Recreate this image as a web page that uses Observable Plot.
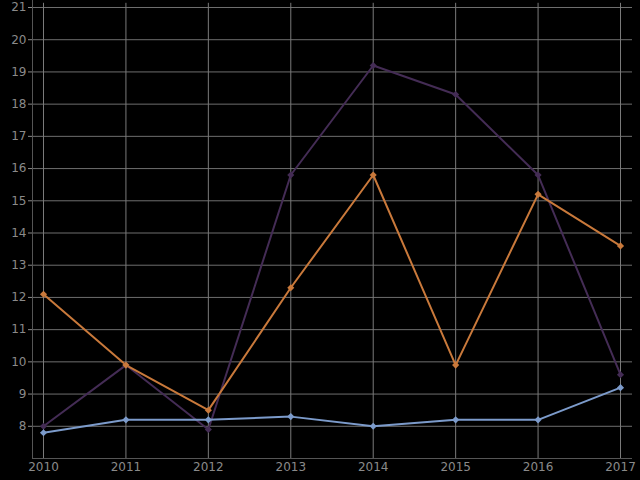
<!DOCTYPE html>
<html>
<head>
<meta charset="utf-8">
<script src="https://cdn.jsdelivr.net/npm/d3@7"></script>
<script src="https://cdn.jsdelivr.net/npm/@observablehq/plot@0.6"></script>
<style>
  html, body { margin: 0; padding: 0; background: #000; }
  #chart svg { display: block; }
</style>
</head>
<body>
<div id="chart"></div>
<script>
const years = [2010, 2011, 2012, 2013, 2014, 2015, 2016, 2017];
const seriesA = [8.0, 9.9, 7.9, 15.8, 19.2, 18.3, 15.8, 9.6];
const seriesB = [12.1, 9.9, 8.5, 12.3, 15.8, 9.9, 15.2, 13.6];
const seriesC = [7.8, 8.2, 8.2, 8.3, 8.0, 8.2, 8.2, 9.2];
const seriesNames = ["Series A", "Series B", "Series C"];
const seriesColors = ["#442c55", "#c9793b", "#7c9bcb"];
const yTicks = [8, 9, 10, 11, 12, 13, 14, 15, 16, 17, 18, 19, 20, 21];

const valuesBySeries = [seriesA, seriesB, seriesC];
const data = [];
seriesNames.forEach((s, i) => {
  years.forEach((yr, j) => data.push({series: s, year: yr, value: valuesBySeries[i][j]}));
});

const W = 640, H = 480, mL = 32, mR = 8, mT = 7, mB = 22;

const plot = Plot.plot({
  width: W,
  height: H,
  marginLeft: mL,
  marginRight: mR,
  marginTop: mT,
  marginBottom: mB,
  style: {background: "#000", color: "#8a8a8a", fontFamily: "DejaVu Sans", fontSize: "12px"},
  x: {domain: [2010, 2017], range: [43, 620], label: null},
  y: {domain: [7, 21], range: [H - mB, mT], label: null},
  color: {domain: seriesNames, range: seriesColors},
  marks: [
    Plot.gridY(yTicks, {stroke: "#6e6e6e", strokeOpacity: 1, strokeWidth: 1}),
    Plot.gridX(years, {stroke: "#7a7a7a", strokeOpacity: 1, strokeWidth: 1, y1: 21.13, y2: 7}),
    Plot.ruleY([7], {stroke: "#555", strokeWidth: 1}),
    Plot.axisY(yTicks, {tickSize: 4, tickPadding: 2, stroke: "#8a8a8a", fill: "#8a8a8a", fontSize: 12, label: null}),
    Plot.axisX(years, {tickSize: 0, tickPadding: 4, fill: "#8a8a8a", fontSize: 12, tickFormat: d => String(d), label: null}),
    Plot.line(data, {x: "year", y: "value", stroke: "series", z: "series", strokeWidth: 2}),
    Plot.dot(data, {x: "year", y: "value", fill: "series", symbol: "diamond2", r: 3.2, stroke: null})
  ]
});

// left frame line (axis spine)
const svg = d3.select(plot);
svg.append("line")
  .attr("x1", mL + 0.5).attr("x2", mL + 0.5)
  .attr("y1", 0).attr("y2", H - mB + 0.5)
  .attr("stroke", "#555").attr("stroke-width", 1);

document.getElementById("chart").appendChild(plot);
</script>
</body>
</html>
